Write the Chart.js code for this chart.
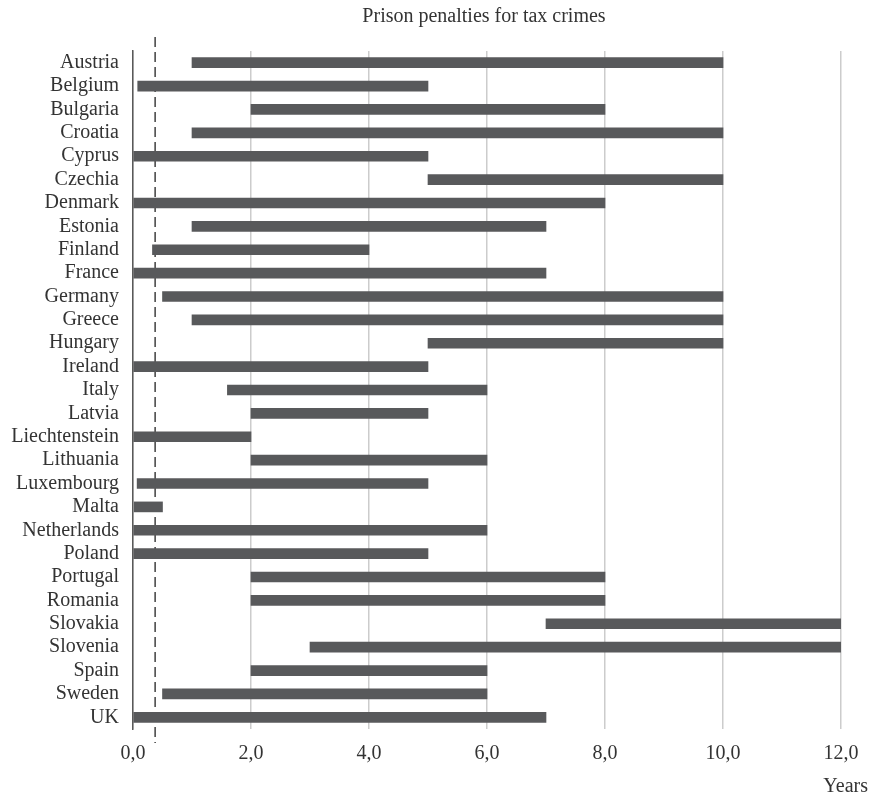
<!DOCTYPE html>
<html>
<head>
<meta charset="utf-8">
<script src="https://cdn.jsdelivr.net/npm/chart.js@4"></script>
<style>
  html, body { margin: 0; padding: 0; background: #fff; }
  #wrap { width: 876px; height: 798px; }
</style>
</head>
<body>
<div id="wrap"><canvas id="prisonChart" width="876" height="798"></canvas></div>
<script>
const countries = ['Austria','Belgium','Bulgaria','Croatia','Cyprus','Czechia','Denmark','Estonia','Finland','France',
  'Germany','Greece','Hungary','Ireland','Italy','Latvia','Liechtenstein','Lithuania','Luxembourg','Malta',
  'Netherlands','Poland','Portugal','Romania','Slovakia','Slovenia','Spain','Sweden','UK'];
const minYears = [1, 0.08, 2, 1, 0, 5, 0, 1, 0.33, 0,
  0.5, 1, 5, 0, 1.6, 2, 0, 2, 0.07, 0.02,
  0, 0, 2, 2, 7, 3, 2, 0.5, 0];
const maxYears = [10, 5, 8, 10, 5, 10, 8, 7, 4, 7,
  10, 10, 10, 5, 6, 5, 2, 6, 5, 0.5,
  6, 5, 8, 8, 12, 12, 6, 6, 7];
const tickLabels = ['0,0','2,0','4,0','6,0','8,0','10,0','12,0'];
const dashedAt = 0.375;   // dashed reference line
const titleText = 'Prison penalties for tax crimes';
const axisText = 'Years';

const FONT = '"Liberation Serif", "Times New Roman", serif';
const TXT = '#333333';

const ranges = countries.map((c, i) => [minYears[i], maxYears[i]]);

// title, "Years" and dashed line
const extras = {
  id: 'extras',
  beforeDatasetsDraw(chart) {
    const ctx = chart.ctx, area = chart.chartArea;
    const x = chart.scales.x.getPixelForValue(dashedAt);
    ctx.save();
    ctx.strokeStyle = '#404040';
    ctx.lineWidth = 1.5;
    ctx.setLineDash([10, 5]);
    ctx.beginPath();
    ctx.moveTo(x, area.top - 14);
    ctx.lineTo(x, area.bottom + 14);
    ctx.stroke();
    ctx.restore();
  },
  afterDraw(chart) {
    const ctx = chart.ctx, area = chart.chartArea;
    ctx.save();
    ctx.fillStyle = TXT;
    ctx.font = '20px ' + FONT;
    ctx.textAlign = 'center';
    ctx.textBaseline = 'middle';
    ctx.fillText(titleText, (area.left + area.right) / 2 - 3, 17);
    ctx.textAlign = 'right';
    ctx.fillText(axisText, 868, 787);
    ctx.restore();
  }
};

const config = {
  type: 'bar',
  data: {
    labels: countries,
    datasets: [{
      data: ranges,
      backgroundColor: '#58595b',
      borderWidth: 0,
      borderSkipped: false,
      barThickness: 10
    }]
  },
  options: {
    indexAxis: 'y',
    responsive: false,
    animation: false,
    layout: { padding: { top: 51, right: 35, bottom: 0, left: 0 } },
    plugins: {
      legend: { display: false },
      title: { display: false },
      tooltip: { enabled: false }
    },
    scales: {
      x: {
        type: 'linear',
        min: 0,
        max: 12,
        afterFit(scale) { scale.height = 69; },
        grid: { color: '#cccccc', lineWidth: 1.5, drawTicks: false },
        border: { display: false },
        ticks: {
          stepSize: 2,
          padding: 13,
          color: TXT,
          font: { family: FONT, size: 20 },
          callback: (v, i) => tickLabels[i]
        }
      },
      y: {
        afterFit(scale) { scale.width = 133; },
        grid: { display: false, drawTicks: false },
        border: { display: true, color: '#595959', width: 1.5 },
        ticks: {
          padding: 14,
          color: TXT,
          autoSkip: false,
          font: { family: FONT, size: 20 }
        }
      }
    }
  },
  plugins: [extras]
};

const canvas = document.getElementById('prisonChart');
const prisonChart = new Chart(canvas, config);
</script>
</body>
</html>
